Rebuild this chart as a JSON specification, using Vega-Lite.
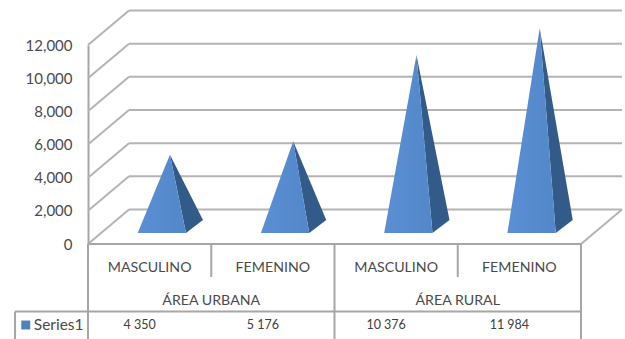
{
  "$schema": "https://vega.github.io/schema/vega-lite/v6.json",
  "description": "Pseudo-3D pyramid chart with a data table under the category axis. Unit on x is one category column; y is the value.",
  "width": 493,
  "height": 199,
  "padding": {"left": 88, "top": 45, "right": 44, "bottom": 95},
  "autosize": "none",
  "background": "white",
  "config": {"view": {"stroke": null}, "text": {"font": "Lato"}},
  "resolve": {"axis": {"y": "independent"}, "scale": {"y": "shared"}},
  "datasets": {
    "totals": [
      {"area": "ÁREA URBANA", "sexo": "MASCULINO", "col": 0.5, "valor": 4350, "etiqueta": "4 350"},
      {"area": "ÁREA URBANA", "sexo": "FEMENINO", "col": 1.5, "valor": 5176, "etiqueta": "5 176"},
      {"area": "ÁREA RURAL", "sexo": "MASCULINO", "col": 2.5, "valor": 10376, "etiqueta": "10 376"},
      {"area": "ÁREA RURAL", "sexo": "FEMENINO", "col": 3.5, "valor": 11984, "etiqueta": "11 984"}
    ],
    "areas": [
      {"area": "ÁREA URBANA", "col": 1},
      {"area": "ÁREA RURAL", "col": 3}
    ],
    "niveles": [
      {"valor": 0}, {"valor": 2000}, {"valor": 4000}, {"valor": 6000},
      {"valor": 8000}, {"valor": 10000}, {"valor": 12000}
    ],
    "frente": [
      {"p": "a", "orden": 1, "col": 0.403, "valor": -362},
      {"p": "a", "orden": 2, "col": 0.795, "valor": -362},
      {"p": "a", "orden": 3, "col": 0.665, "valor": 4350},
      {"p": "b", "orden": 1, "col": 1.403, "valor": -362},
      {"p": "b", "orden": 2, "col": 1.795, "valor": -362},
      {"p": "b", "orden": 3, "col": 1.665, "valor": 5176},
      {"p": "c", "orden": 1, "col": 2.403, "valor": -362},
      {"p": "c", "orden": 2, "col": 2.795, "valor": -362},
      {"p": "c", "orden": 3, "col": 2.665, "valor": 10376},
      {"p": "d", "orden": 1, "col": 3.403, "valor": -362},
      {"p": "d", "orden": 2, "col": 3.795, "valor": -362},
      {"p": "d", "orden": 3, "col": 3.665, "valor": 11984}
    ],
    "lado": [
      {"p": "a", "orden": 1, "col": 0.795, "valor": -362},
      {"p": "a", "orden": 2, "col": 0.933, "valor": 422},
      {"p": "a", "orden": 3, "col": 0.665, "valor": 4350},
      {"p": "b", "orden": 1, "col": 1.795, "valor": -362},
      {"p": "b", "orden": 2, "col": 1.933, "valor": 422},
      {"p": "b", "orden": 3, "col": 1.665, "valor": 5176},
      {"p": "c", "orden": 1, "col": 2.795, "valor": -362},
      {"p": "c", "orden": 2, "col": 2.933, "valor": 422},
      {"p": "c", "orden": 3, "col": 2.665, "valor": 10376},
      {"p": "d", "orden": 1, "col": 3.795, "valor": -362},
      {"p": "d", "orden": 2, "col": 3.933, "valor": 422},
      {"p": "d", "orden": 3, "col": 3.665, "valor": 11984}
    ],
    "divisiones": [
      {"col": 1, "tramo": "corto"}, {"col": 3, "tramo": "corto"},
      {"col": 2, "tramo": "largo"}, {"col": 4, "tramo": "largo"}, {"col": 0, "tramo": "largo"}
    ]
  },
  "layer": [
    {
      "description": "Back wall gridlines",
      "data": {"name": "niveles"},
      "mark": {"type": "rule", "color": "#b4b4b4", "strokeWidth": 2, "xOffset": 41, "x2Offset": 41, "yOffset": -34.5, "y2Offset": -34.5},
      "encoding": {
        "x": {"datum": 0, "type": "quantitative", "scale": {"domain": [0, 4], "nice": false, "zero": false}, "axis": null},
        "x2": {"datum": 4},
        "y": {"field": "valor", "type": "quantitative",
          "scale": {"domain": [0, 12000], "nice": false},
          "axis": {"title": null, "values": [0, 2000, 4000, 6000, 8000, 10000, 12000], "labelExpr": "format(datum.value, ',')", "labelOverlap": false, "grid": false,
            "ticks": false, "domain": true, "domainColor": "#a6a6a6", "domainWidth": 2, "labelPadding": 16,
            "labelFont": "Lato", "labelFontSize": 15, "labelColor": "#4a4a4a"}}
      }
    },
    {
      "description": "Left side wall diagonals",
      "data": {"name": "niveles"},
      "mark": {"type": "rule", "color": "#b4b4b4", "strokeWidth": 2, "x2Offset": 41, "y2Offset": -34.5},
      "encoding": {
        "x": {"datum": 0, "type": "quantitative", "axis": null},
        "x2": {"datum": 0},
        "y": {"field": "valor", "type": "quantitative", "axis": null},
        "y2": {"field": "valor"}
      }
    },
    {
      "description": "Right edge of the floor",
      "data": {"values": [{"valor": 0}]},
      "mark": {"type": "rule", "color": "#b4b4b4", "strokeWidth": 2, "x2Offset": 41, "y2Offset": -34.5},
      "encoding": {
        "x": {"datum": 4, "type": "quantitative", "axis": null},
        "x2": {"datum": 4},
        "y": {"field": "valor", "type": "quantitative", "axis": null},
        "y2": {"field": "valor"}
      }
    },
    {
      "description": "Front edge of the floor",
      "data": {"values": [{"valor": 0}]},
      "mark": {"type": "rule", "color": "#a6a6a6", "strokeWidth": 2},
      "encoding": {
        "x": {"datum": 0, "type": "quantitative", "axis": null},
        "x2": {"datum": 4},
        "y": {"field": "valor", "type": "quantitative", "axis": null}
      }
    },
    {
      "description": "Pyramid shaded side faces",
      "data": {"name": "lado"},
      "mark": {"type": "line", "fill": "#335b89", "stroke": null, "yOffset": -17},
      "encoding": {
        "x": {"field": "col", "type": "quantitative", "axis": null},
        "y": {"field": "valor", "type": "quantitative", "axis": null},
        "detail": {"field": "p"},
        "order": {"field": "orden"}
      }
    },
    {
      "description": "Pyramid front faces",
      "data": {"name": "frente"},
      "mark": {"type": "line", "stroke": null, "yOffset": -17,
        "fill": {"gradient": "linear", "x1": 0, "y1": 0, "x2": 1, "y2": 0, "stops": [
          {"offset": 0, "color": "#5a8fd4"},
          {"offset": 1, "color": "#5287c9"}
        ]}},
      "encoding": {
        "x": {"field": "col", "type": "quantitative", "axis": null},
        "y": {"field": "valor", "type": "quantitative", "axis": null},
        "detail": {"field": "p"},
        "order": {"field": "orden"}
      }
    },
    {
      "description": "Table cell dividers below the floor",
      "data": {"name": "divisiones"},
      "transform": [{"filter": "datum.tramo === 'corto'"}],
      "mark": {"type": "rule", "color": "#a6a6a6", "strokeWidth": 2, "y2Offset": 33},
      "encoding": {
        "x": {"field": "col", "type": "quantitative", "axis": null},
        "y": {"datum": 0, "type": "quantitative", "axis": null},
        "y2": {"datum": 0}
      }
    },
    {
      "description": "Full-height table dividers",
      "data": {"name": "divisiones"},
      "transform": [{"filter": "datum.tramo === 'largo'"}],
      "mark": {"type": "rule", "color": "#a6a6a6", "strokeWidth": 2, "y2Offset": 95},
      "encoding": {
        "x": {"field": "col", "type": "quantitative", "axis": null},
        "y": {"datum": 0, "type": "quantitative", "axis": null},
        "y2": {"datum": 0}
      }
    },
    {
      "description": "Top line of the series row",
      "data": {"values": [{"col": -0.592}]},
      "mark": {"type": "rule", "color": "#a6a6a6", "strokeWidth": 2, "yOffset": 67.5, "y2Offset": 67.5},
      "encoding": {
        "x": {"field": "col", "type": "quantitative", "axis": null},
        "x2": {"datum": 4},
        "y": {"datum": 0, "type": "quantitative", "axis": null}
      }
    },
    {
      "description": "Left edge of the series row",
      "data": {"values": [{"col": -0.592}]},
      "mark": {"type": "rule", "color": "#a6a6a6", "strokeWidth": 2, "yOffset": 67.5, "y2Offset": 95},
      "encoding": {
        "x": {"field": "col", "type": "quantitative", "axis": null},
        "y": {"datum": 0, "type": "quantitative", "axis": null},
        "y2": {"datum": 0}
      }
    },
    {
      "description": "Category labels",
      "data": {"name": "totals"},
      "mark": {"type": "text", "fontSize": 14.2, "color": "#4a4a4a", "yOffset": 24},
      "encoding": {
        "x": {"field": "col", "type": "quantitative", "axis": null},
        "y": {"datum": 0, "type": "quantitative", "axis": null},
        "text": {"field": "sexo"}
      }
    },
    {
      "description": "Group labels",
      "data": {"name": "areas"},
      "mark": {"type": "text", "fontSize": 14.2, "color": "#4a4a4a", "yOffset": 57},
      "encoding": {
        "x": {"field": "col", "type": "quantitative", "axis": null},
        "y": {"datum": 0, "type": "quantitative", "axis": null},
        "text": {"field": "area"}
      }
    },
    {
      "description": "Table values",
      "data": {"name": "totals"},
      "mark": {"type": "text", "fontSize": 12.5, "color": "#404040", "yOffset": 81, "xOffset": -10},
      "encoding": {
        "x": {"field": "col", "type": "quantitative", "axis": null},
        "y": {"datum": 0, "type": "quantitative", "axis": null},
        "text": {"field": "etiqueta"}
      }
    },
    {
      "description": "Series key swatch",
      "data": {"values": [{"col": -0.505, "serie": "Series1"}]},
      "mark": {"type": "point", "shape": "square", "filled": true, "size": 80, "color": "#4f81bd", "opacity": 1, "yOffset": 81},
      "encoding": {
        "x": {"field": "col", "type": "quantitative", "axis": null},
        "y": {"datum": 0, "type": "quantitative", "axis": null}
      }
    },
    {
      "description": "Series key name",
      "data": {"values": [{"col": -0.44, "serie": "Series1"}]},
      "mark": {"type": "text", "fontSize": 15.5, "color": "#4a4a4a", "align": "left", "yOffset": 81},
      "encoding": {
        "x": {"field": "col", "type": "quantitative", "axis": null},
        "y": {"datum": 0, "type": "quantitative", "axis": null},
        "text": {"field": "serie"}
      }
    }
  ]
}
